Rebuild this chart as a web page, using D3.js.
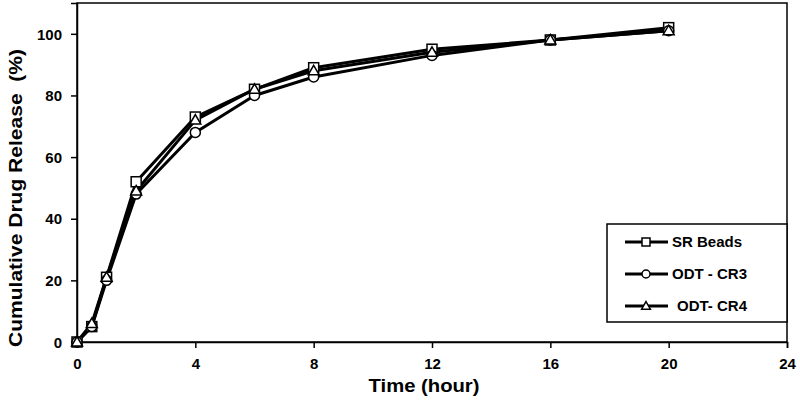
<!DOCTYPE html>
<html><head><meta charset="utf-8">
<script src="https://cdn.jsdelivr.net/npm/d3@7"></script>
<style>body{margin:0;background:#fff}svg{display:block}text{font-family:"Liberation Sans",Arial,sans-serif;font-weight:bold}</style>
</head><body><svg id="c" width="800" height="407"></svg>
<script>
const times = [0, 0.5, 1, 2, 4, 6, 8, 12, 16, 20];
const srBeads = [0, 5, 21, 52, 73, 82, 89, 95, 98, 102];
const odtCR3 = [0, 5, 20, 48, 68, 80, 86, 93, 98, 101];
const odtCR4 = [0, 6, 21, 49, 72, 82, 88, 94, 98, 101];
const seriesNames = ["SR Beads", "ODT - CR3", "ODT- CR4"];
const seriesShapes = ["square", "circle", "triangle"];
const xTicks = [0, 4, 8, 12, 16, 20, 24];
const yTicks = [0, 20, 40, 60, 80, 100];

const svg = d3.select("#c");
const L = 77, R = 787, T = 3, B = 342;
const x = d3.scaleLinear().domain([0, 24]).range([L, R]);
const y = d3.scaleLinear().domain([0, 110]).range([B, T]);

svg.append("rect").attr("x", L).attr("y", T).attr("width", R - L).attr("height", B - T)
  .attr("fill", "none").attr("stroke", "#000").attr("stroke-width", 1.5);

const xa = svg.append("g").attr("transform", `translate(0,${B})`)
  .call(d3.axisBottom(x).tickValues(xTicks).tickSize(6).tickPadding(10).tickFormat(d3.format("d")));
const ya = svg.append("g").attr("transform", `translate(${L},0)`)
  .call(d3.axisLeft(y).tickValues(yTicks).tickSize(6).tickPadding(9).tickFormat(d3.format("d")));
[xa, ya].forEach(a => {
  a.select(".domain").attr("stroke-width", 1.5);
  a.selectAll(".tick line").attr("stroke-width", 1.5);
  a.selectAll("text").attr("font-size", 15).attr("fill", "#000")
   .style("font-family", '"Liberation Sans",Arial,sans-serif').style("font-weight", "bold");
});
ya.selectAll("text").attr("dy", "0.35em");

svg.append("text").attr("x", 424).attr("y", 392).attr("text-anchor", "middle")
  .attr("font-size", 18).attr("textLength", 111).attr("lengthAdjust", "spacingAndGlyphs").text("Time (hour)");
svg.append("text").attr("transform", `translate(22,198) rotate(-90)`).attr("text-anchor", "middle")
  .attr("font-size", 18).attr("textLength", 298).attr("lengthAdjust", "spacingAndGlyphs")
  .attr("xml:space", "preserve").style("white-space", "pre").text("Cumulative Drug Release  (%)");

const data = [srBeads, odtCR3, odtCR4];
const line = d3.line().x((d, i) => x(times[i])).y(d => y(d));

function marker(g, shape, cx, cy, s) {
  if (shape === "square") g.append("rect").attr("x", cx - s).attr("y", cy - s).attr("width", 2 * s).attr("height", 2 * s)
    .attr("fill", "#fff").attr("stroke", "#000").attr("stroke-width", 1.5);
  else if (shape === "circle") g.append("circle").attr("cx", cx).attr("cy", cy).attr("r", s)
    .attr("fill", "#fff").attr("stroke", "#000").attr("stroke-width", 1.5);
  else g.append("path").attr("d", `M${cx},${cy - s * 1.1}L${cx + s * 1.1},${cy + s * 0.8}L${cx - s * 1.1},${cy + s * 0.8}Z`)
    .attr("fill", "#fff").attr("stroke", "#000").attr("stroke-width", 1.5);
}

data.forEach(vals => {
  svg.append("path").datum(vals).attr("d", line).attr("fill", "none")
    .attr("stroke", "#000").attr("stroke-width", 3).attr("stroke-linejoin", "round");
});
data.forEach((vals, k) => {
  const g = svg.append("g");
  vals.forEach((v, i) => marker(g, seriesShapes[k], x(times[i]), y(v), 5));
});

const lg = svg.append("g");
lg.append("rect").attr("x", 607).attr("y", 224).attr("width", 180).attr("height", 98)
  .attr("fill", "#fff").attr("stroke", "#000").attr("stroke-width", 1.5);
const rowY = [242, 274, 306];
seriesNames.forEach((n, k) => {
  lg.append("line").attr("x1", 625).attr("x2", 668).attr("y1", rowY[k]).attr("y2", rowY[k])
    .attr("stroke", "#000").attr("stroke-width", 3);
  marker(lg, seriesShapes[k], 646, rowY[k], 4);
  lg.append("text").attr("x", k === 2 ? 677 : 672).attr("y", rowY[k]).attr("dy", "0.35em")
    .attr("font-size", 15).text(n);
});
</script></body></html>
